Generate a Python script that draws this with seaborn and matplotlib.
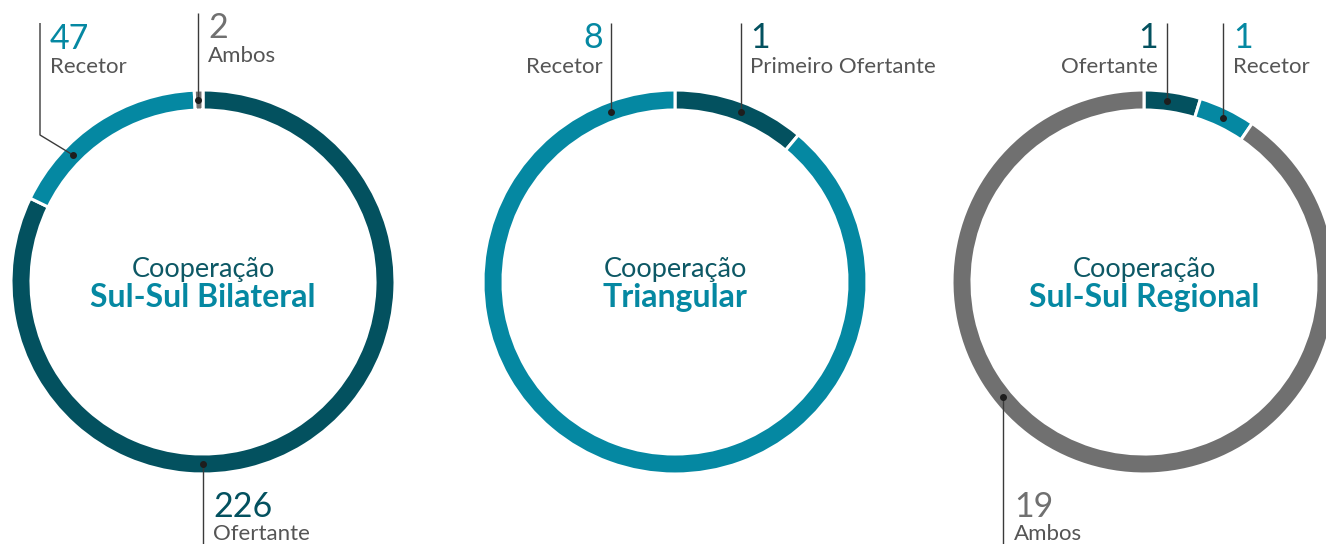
import numpy as np
import matplotlib
matplotlib.use("Agg")
import matplotlib.pyplot as plt
import seaborn as sns

# dados
titles = ["Sul-Sul Bilateral", "Triangular", "Sul-Sul Regional"]
bilateral_labels = ["Ofertante", "Recetor", "Ambos"]
bilateral_values = [226, 47, 2]
triangular_labels = ["Primeiro Ofertante", "Recetor"]
triangular_values = [1, 8]
regional_labels = ["Ofertante", "Recetor", "Ambos"]
regional_values = [1, 1, 19]

DARK = "#03515f"
TEAL = "#0588a2"
GRAY = "#707070"
role_colors = {"Ofertante": DARK, "Primeiro Ofertante": DARK, "Recetor": TEAL, "Ambos": GRAY}

sns.set_theme(style="white")
plt.rcParams['font.family'] = ['Lato', 'DejaVu Sans']

W, H = 1326, 544
fig = plt.figure(figsize=(W / 100, H / 100), dpi=100)
ax = fig.add_axes([0, 0, 1, 1])

centers = [(203, 282), (675, 282), (1144, 282)]
R_OUT = 192
R_MID = 182

# posição das etiquetas: angulo do ponto (graus, sentido horario desde o topo), fim da linha, texto
layouts = [
    [dict(ang=180, end=544, tx=213, ha="left", ny=517, ly=540),
     dict(ang=314.3, end=23, elbow=(40, 135), tx=50, ha="left", ny=49, ly=73),
     dict(ang=-1.5, end=13, tx=208, ha="left", ny=38, ly=62)],
    [dict(ang=21.1, end=23, tx=750, ha="left", ny=48, ly=73),
     dict(ang=-20.5, end=23, tx=603, ha="right", ny=48, ly=73)],
    [dict(ang=7.2, end=23, tx=1158, ha="right", ny=48, ly=73),
     dict(ang=25.7, end=23, tx=1233, ha="left", ny=48, ly=73),
     dict(ang=230.8, end=544, tx=1014, ha="left", ny=517, ly=540)],
]

datasets = [(bilateral_labels, bilateral_values),
            (triangular_labels, triangular_values),
            (regional_labels, regional_values)]

for (labels, values), (cx, cy), title, lay in zip(datasets, centers, titles, layouts):
    cols = [role_colors[l] for l in labels]
    # eixo y invertido: counterclock=True fica no sentido horario
    ax.pie(values, colors=cols, center=(cx, cy), radius=R_OUT, startangle=-90,
           counterclock=True,
           wedgeprops=dict(width=20, edgecolor="white", linewidth=2.2))
    ax.text(cx, 277, "Cooperação", ha="center", va="baseline", fontsize=19.5, color="#0d5865")
    ax.text(cx, 307, title, ha="center", va="baseline", fontsize=23, fontweight="bold", color=TEAL)

    for lab, val, col, L in zip(labels, values, cols, lay):
        a = np.radians(L["ang"])
        px, py = cx + R_MID * np.sin(a), cy - R_MID * np.cos(a)
        if "elbow" in L:
            ex, ey = L["elbow"]
            xs, ys = [px, ex, ex], [py, ey, L["end"]]
        else:
            xs, ys = [px, px], [py, L["end"]]
        ax.plot(xs, ys, color="#3a3a3a", lw=1, solid_capstyle="butt")
        ax.plot(px, py, "o", color="#1e1e1e", ms=4)
        ax.text(L["tx"], L["ny"], str(val), ha=L["ha"], va="baseline", fontsize=24.5, color=col)
        ax.text(L["tx"], L["ly"], lab, ha=L["ha"], va="baseline", fontsize=16, color="#555555")

ax.set_xlim(0, W)
ax.set_ylim(H, 0)
ax.set_aspect("equal")
ax.axis("off")
fig.savefig("out.png", dpi=100)
